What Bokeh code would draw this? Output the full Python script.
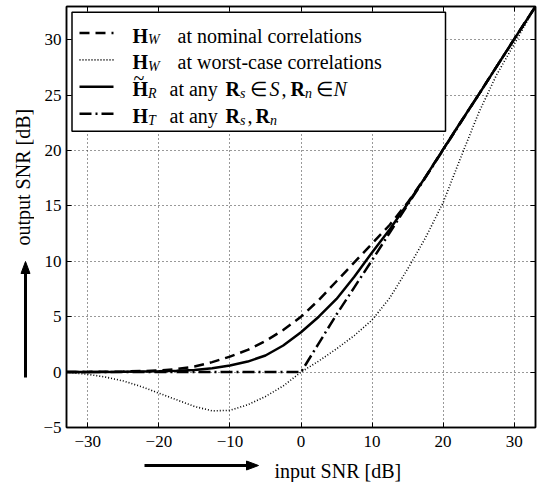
import math
from bokeh.plotting import figure
from bokeh.layouts import row, column
from bokeh.models import FixedTicker, LinearAxis, Range1d
from bokeh.core.properties import value
from bokeh.embed import file_html
from bokeh.resources import INLINE

# ---------------- data ----------------
input_snr = [-33, -30, -27.5, -25, -22.5, -20, -17.5, -15, -12.5, -10, -7.5, -5, -2.5,
             0, 2.5, 5, 7.5, 10, 12.5, 15, 17.5, 20, 22.5, 25, 27.5, 30, 33]
hw_nominal = [0.0, 0.02, 0.03, 0.05, 0.09, 0.15, 0.27, 0.5, 0.9, 1.4, 2.0, 2.8, 3.8,
              5.0, 6.5, 8.2, 9.9, 11.6, 13.3, 15.3, 17.6, 20.1, 22.6, 25.05, 27.55, 30.05, 33.0]
hw_worst = [0.0, -0.2, -0.45, -0.8, -1.3, -1.9, -2.5, -3.1, -3.5, -3.45, -2.95, -2.2, -1.25,
            0.0, 1.0, 2.1, 3.3, 4.7, 6.7, 9.3, 12.1, 15.3, 19.4, 23.4, 26.8, 29.6, 33.0]
hr_robust = [0.0, 0.01, 0.02, 0.03, 0.05, 0.07, 0.12, 0.2, 0.35, 0.6, 0.95, 1.5, 2.4,
             3.6, 5.0, 6.6, 8.6, 10.8, 12.9, 15.2, 17.6, 20.1, 22.6, 25.05, 27.55, 30.05, 33.0]
ht_any = [0.0, 0.0, 0.0, 0.0, 0.0, 0.0, 0.0, 0.0, 0.0, 0.0, 0.0, 0.0, 0.0,
          0.0, 2.6, 5.2, 7.65, 10.1, 12.6, 15.1, 17.55, 20.05, 22.55, 25.05, 27.55, 30.05, 33.0]

x_ticks = [-30, -20, -10, 0, 10, 20, 30]
y_ticks = [-5, 0, 5, 10, 15, 20, 25, 30]
x_lim = (-33, 33)
y_lim = (-5, 33)

legend_texts = ["at nominal correlations", "at worst-case correlations", "at any", "at any"]
x_label = "input SNR [dB]"
y_label = "output SNR [dB]"


def tick_text(v):
    return ("\u2212" + str(-v)) if v < 0 else str(v)


FONT = "Liberation Serif"
PX0, PY0 = 1, 1                 # observed page offset of the canvas
LW = 34                         # width of the left strip (y title + arrow)
BL, BT, BR, BB = 32, 6, 3, 28   # borders of the main figure
FW, FH = 469, 421               # frame size
MW, MH = BL + FW + BR, BT + FH + BB
BH = 27                         # height of the bottom strip (x title + arrow)

FL = PX0 + LW + BL
FT = PY0 + BT


def px2x(px):
    return x_lim[0] + (px - FL) / FW * (x_lim[1] - x_lim[0])


def py2y(py):
    return y_lim[1] - (py - FT) / FH * (y_lim[1] - y_lim[0])


# ---------------- main figure ----------------
p = figure(width=MW, height=MH,
           x_range=Range1d(*x_lim), y_range=Range1d(*y_lim),
           output_backend="svg", toolbar_location=None, align="start",
           min_border_left=BL, min_border_top=BT, min_border_right=BR, min_border_bottom=BB,
           background_fill_color="white", border_fill_color="white")
p.outline_line_color = "black"
p.outline_line_width = 1.5

for ax, ticks, so in ((p.xaxis[0], x_ticks, 8), (p.yaxis[0], y_ticks, 5)):
    ax.ticker = FixedTicker(ticks=ticks)
    ax.major_label_overrides = {t: tick_text(t) for t in ticks}
    ax.major_tick_in = 5
    ax.major_tick_out = 0
    ax.minor_tick_line_color = None
    ax.axis_line_color = "black"
    ax.axis_line_width = 1.5
    ax.major_tick_line_color = "black"
    ax.major_tick_line_width = 1
    ax.major_label_text_font = FONT
    ax.major_label_text_font_size = "17px"
    ax.major_label_text_color = "black"
    ax.major_label_standoff = so

for side, ticks in (("above", x_ticks), ("right", y_ticks)):
    ax = LinearAxis(ticker=FixedTicker(ticks=ticks), major_tick_in=5, major_tick_out=0,
                    minor_tick_line_color=None, major_label_text_font_size="0px",
                    major_label_standoff=0, axis_line_color="black", axis_line_width=1.5,
                    major_tick_line_color="black")
    ax.major_label_overrides = {t: "" for t in ticks}
    p.add_layout(ax, side)

p.xgrid.ticker = FixedTicker(ticks=x_ticks)
p.ygrid.ticker = FixedTicker(ticks=y_ticks)
for g in (p.xgrid[0], p.ygrid[0]):
    g.grid_line_color = "#333333"
    g.grid_line_dash = "1 3"
    g.grid_line_width = 1

STY = [dict(line_width=2.5, line_dash="10 6"),          # H_W nominal
       dict(line_width=1.6, line_dash="1 2"),           # H_W worst case
       dict(line_width=2.5),                            # H_R robust
       dict(line_width=2.5, line_dash="12 4 2 4")]      # H_T

# legend box (white, hides the grid)
LB = dict(left=72.5, right=446, top=12.7, bottom=131.7)
p.quad(left=[px2x(LB["left"])], right=[px2x(LB["right"])],
       top=[py2y(LB["top"])], bottom=[py2y(LB["bottom"])],
       fill_color="white", line_color="black", line_width=1.5)

p.line(input_snr, ht_any, line_color="black", **STY[3])
p.line(input_snr, hw_worst, line_color="black", **STY[1])
p.line(input_snr, hw_nominal, line_color="black", **STY[0])
p.line(input_snr, hr_robust, line_color="black", **STY[2])

# legend entries
base = [36 + 26.9 * i for i in range(4)]
for i in range(4):
    yy = py2y(base[i] - 2.5)
    p.line([px2x(80), px2x(114)], [yy, yy], line_color="black", **STY[i])

pieces = {"bold": [], "sub": [], "ital": [], "norm": []}
subs = ["W", "W", "R", "T"]
text_x = [178, 178, 170, 170]
for i, b in enumerate(base):
    pieces["bold"].append((133, b, "H"))
    pieces["sub"].append((148.5, b + 4, subs[i]))
    pieces["norm"].append((text_x[i], b, legend_texts[i]))
pieces["norm"].append((134, base[2] - 11, "~"))
b = base[2]
pieces["bold"] += [(226, b, "R"), (291, b, "R")]
pieces["sub"] += [(240.5, b + 4, "s"), (305.5, b + 4, "n")]
pieces["norm"] += [(250, b, "\u2208"), (282, b, ","), (316, b, "\u2208")]
pieces["ital"] += [(270, b, "S"), (334, b, "N")]
b = base[3]
pieces["bold"] += [(226, b, "R"), (256, b, "R")]
pieces["sub"] += [(240.5, b + 4, "s"), (270.5, b + 4, "n")]
pieces["norm"] += [(248, b, ",")]

styles = {"bold": ("bold", "20px"), "sub": ("italic", "14px"),
          "ital": ("italic", "20px"), "norm": ("normal", "20px")}
for k, items in pieces.items():
    st, sz = styles[k]
    p.text(x=[px2x(a) for a, _, _ in items], y=[py2y(c) for _, c, _ in items],
           text=[t for _, _, t in items], text_font=value(FONT), text_font_style=st,
           text_font_size=sz, text_color="black", text_baseline="alphabetic",
           text_align="left")


# ---------------- side strips with the axis titles and arrows ----------------
def strip(w, h, xr):
    f = figure(width=w, height=h, x_range=Range1d(*xr), y_range=Range1d(0, h),
               output_backend="svg", toolbar_location=None, align="start",
               x_axis_type=None, y_axis_type=None,
               min_border_left=0, min_border_right=0, min_border_top=0, min_border_bottom=0,
               background_fill_color="white", border_fill_color="white")
    f.outline_line_color = None
    return f


def draw_arrow(f, oy, h, x0, y0, x1, y1, ox=0.0, head=12, half=4.5):
    L = math.hypot(x1 - x0, y1 - y0)
    ux, uy = (x1 - x0) / L, (y1 - y0) / L
    bx, by = x1 - ux * head, y1 - uy * head
    loc = lambda a, c: (a - ox, oy + h - c)
    s0, s1 = loc(x0, y0), loc(bx + ux, by + uy)
    f.segment(x0=[s0[0]], y0=[s0[1]], x1=[s1[0]], y1=[s1[1]],
              line_color="black", line_width=3)
    pts = [loc(x1, y1), loc(bx - uy * half, by + ux * half), loc(bx + uy * half, by - ux * half)]
    f.patch(x=[q[0] for q in pts], y=[q[1] for q in pts], fill_color="black",
            line_color="black", line_width=1)


# left strip: local x = page x - PX0
left = strip(LW, MH, (0, LW))
draw_arrow(left, PY0, MH, 26, 378, 26, 262, ox=PX0)
left.text(x=[23 - PX0], y=[PY0 + MH - 246], text=[y_label], angle=math.pi / 2,
          text_font=value(FONT), text_font_size="20px", text_color="black",
          text_baseline="alphabetic", text_align="left")

# bottom strip: its frame is aligned with the main frame, so x is in page pixels
bottom = strip(MW, BH, (FL, FL + FW))
oy = PY0 + MH
draw_arrow(bottom, oy, BH, 145, 466, 259, 466)
bottom.text(x=[275], y=[oy + BH - 471], text=[x_label],
            text_font=value(FONT), text_font_size="20px", text_color="black",
            text_baseline="alphabetic", text_align="left")

layout = row(left, column(p, bottom, align="start"), align="start")
open("out.html", "w").write(file_html(layout, INLINE))
